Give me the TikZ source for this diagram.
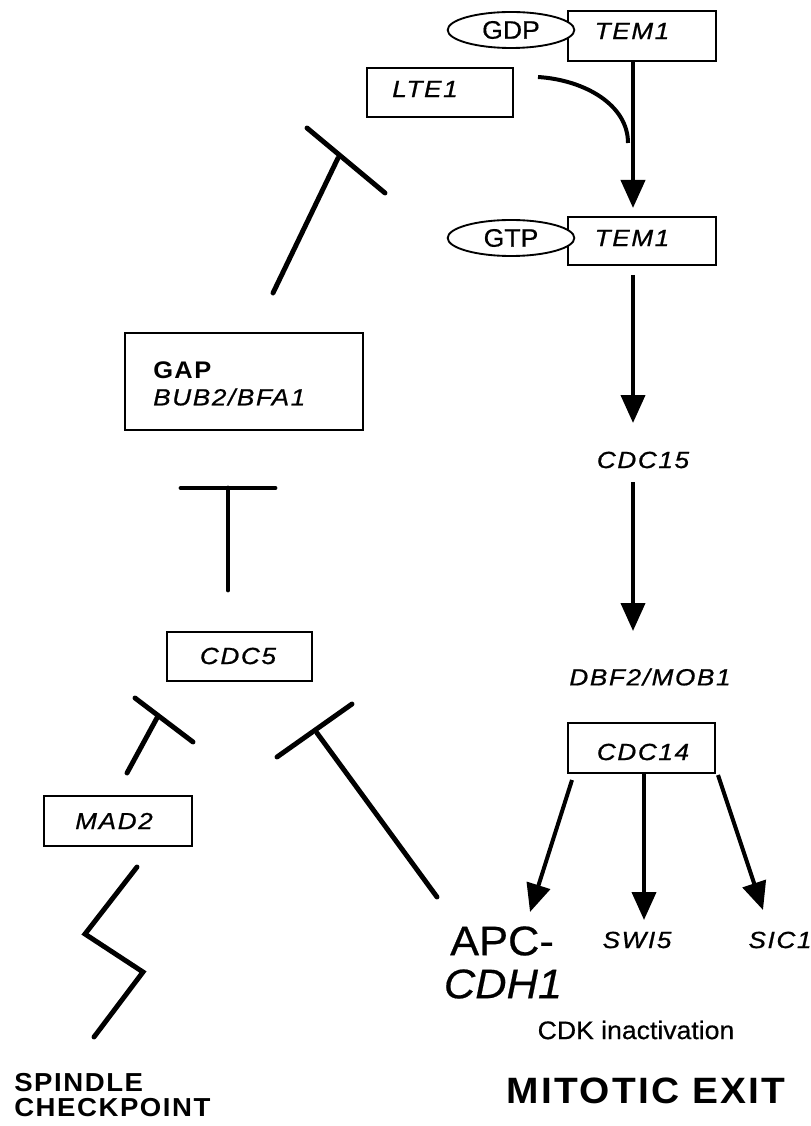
\documentclass[tikz,border=0pt]{standalone}
\usepackage{fontspec}
\setmainfont{Liberation Sans}
\newfontfamily\gene[LetterSpace=7,FakeStretch=1.12,FakeBold=0.8]{Liberation Sans}
\newfontfamily\wide[LetterSpace=6,FakeStretch=1.06]{Liberation Sans}
\newfontfamily\plainlbl[FakeStretch=1.05,FakeBold=0.5]{Liberation Sans}
\usetikzlibrary{arrows.meta,shapes.geometric}
\tikzset{
  box/.style={draw, line width=1.4pt, rectangle, inner sep=0pt},
  nuc/.style={draw, line width=1.4pt, ellipse, fill=white, inner sep=0pt,
              minimum width=95pt, minimum height=27pt, font=\plainlbl\fontsize{19}{21}\selectfont},
  genelabel/.style={font=\gene\itshape\fontsize{17.5}{19}\selectfont, inner sep=0pt},
  act/.style={line width=3pt, -{Triangle[length=21pt,width=18pt]}},
  inhib/.style={line width=3.7pt, line cap=round},
  plain/.style={line width=3pt}
}
\begin{document}
\begin{tikzpicture}[x=0.75pt,y=-0.75pt]
\useasboundingbox (0,0) rectangle (810,1126);

% ---- upper right: TEM1 activation ----
\node[box, minimum width=111pt, minimum height=37.5pt] (tem1box) at (642,36) {};
\node[nuc] (gdp) at (511,30) {GDP};
\node[genelabel] (tem1a) at (632,31) {TEM1};

\node[box, minimum width=109.5pt, minimum height=36.75pt] (lte1box) at (440,92.5) {};
\node[genelabel] (lte1) at (425,89) {LTE1};

\node[box, minimum width=111pt, minimum height=36pt] (tem2box) at (642,241) {};
\node[nuc] (gtp) at (511,238) {GTP};
\node[genelabel] (tem1b) at (632,238) {TEM1};

\coordinate (lteS) at (538,77);
\coordinate (lteE) at (628,143);
\draw[plain] (lteS) .. controls (585,80) and (628,105) .. (lteE);

\coordinate (t1s) at (633,61);
\coordinate (t1e) at (633,208);
\draw[act] (t1s) -- (t1e);

% ---- right column: kinase cascade ----
\node[genelabel] (cdc15) at (643,460) {CDC15};
\coordinate (c15a) at (633,275);
\coordinate (c15b) at (633,423);
\draw[act] (c15a) -- (c15b);

\node[genelabel] (dbf2) at (650,677) {DBF2/MOB1};
\coordinate (d2a) at (633,482);
\coordinate (d2b) at (633,631);
\draw[act] (d2a) -- (d2b);

\node[box, minimum width=110pt, minimum height=37.5pt] (cdc14box) at (641.5,748) {};
\node[genelabel] (cdc14) at (643,752) {CDC14};

\node[font=\plainlbl\fontsize{31}{32}\selectfont, inner sep=0pt] (apc) at (502,941) {APC-};
\node[font=\plainlbl\itshape\fontsize{31}{32}\selectfont, inner sep=0pt] (cdh1) at (503,984) {CDH1};
\node[genelabel] (swi5) at (637,940) {SWI5};
\node[genelabel] (sic1) at (780,940) {SIC1};

\coordinate (a1s) at (572,780);
\coordinate (a1e) at (530,912);
\coordinate (a2s) at (644,773);
\coordinate (a2e) at (644,920);
\coordinate (a3s) at (718,775);
\coordinate (a3e) at (763,910);
\draw[act] (a1s) -- (a1e);
\draw[act] (a2s) -- (a2e);
\draw[act] (a3s) -- (a3e);

\node[font=\plainlbl\fontsize{19}{21}\selectfont, inner sep=0pt] (cdk) at (636,1030) {CDK inactivation};
\node[font=\wide\bfseries\fontsize{27.5}{29}\selectfont, inner sep=0pt] (exit) at (646,1091) {MITOTIC EXIT};

% ---- left side: checkpoint branch ----
\node[box, minimum width=178.5pt, minimum height=72.75pt] (gapbox) at (244,381.5) {};
\node[font=\wide\bfseries\fontsize{18}{19}\selectfont, inner sep=0pt, anchor=west] (gap) at (153,370) {GAP};
\node[genelabel, anchor=west] (bub2) at (153,397) {BUB2/BFA1};

% GAP inhibits TEM1 activation
\coordinate (g1) at (273,293);
\coordinate (g2) at (338,158);
\coordinate (g3) at (307,128);
\coordinate (g4) at (385,193);
\draw[inhib] (g1) -- (g2);
\draw[inhib] (g3) -- (g4);

\node[box, minimum width=108.75pt, minimum height=36.75pt] (cdc5box) at (239.5,656.5) {};
\node[genelabel] (cdc5) at (238,656) {CDC5};

% CDC5 inhibits GAP
\coordinate (c1) at (228,590);
\coordinate (c2) at (228,488);
\coordinate (c3) at (181,488);
\coordinate (c4) at (275,488);
\draw[inhib] (c1) -- (c2);
\draw[inhib] (c3) -- (c4);

\node[box, minimum width=111pt, minimum height=37.5pt] (mad2box) at (118,821) {};
\node[genelabel] (mad2) at (114,821) {MAD2};

% MAD2 inhibits CDC5
\coordinate (m1) at (127,773);
\coordinate (m2) at (158,716);
\coordinate (m3) at (135,698);
\coordinate (m4) at (193,742);
\draw[inhib] (m1) -- (m2);
\draw[inhib] (m3) -- (m4);

% APC-CDH1 inhibits CDC5
\coordinate (p1) at (437,897);
\coordinate (p2) at (317,733);
\coordinate (p3) at (277,757);
\coordinate (p4) at (352,704);
\draw[inhib] (p1) -- (p2);
\draw[inhib] (p3) -- (p4);

% zig-zag signal from the spindle checkpoint
\coordinate (z1) at (137,867);
\coordinate (z2) at (85,934);
\coordinate (z3) at (143,972);
\coordinate (z4) at (94,1037);
\draw[inhib, line join=miter] (z1) -- (z2) -- (z3) -- (z4);

\node[font=\wide\bfseries\fontsize{19.5}{20}\selectfont, inner sep=0pt, anchor=west] (spindle) at (14,1083) {SPINDLE};
\node[font=\wide\bfseries\fontsize{19.5}{20}\selectfont, inner sep=0pt, anchor=west] (chk) at (14,1108) {CHECKPOINT};
\end{tikzpicture}
\end{document}
